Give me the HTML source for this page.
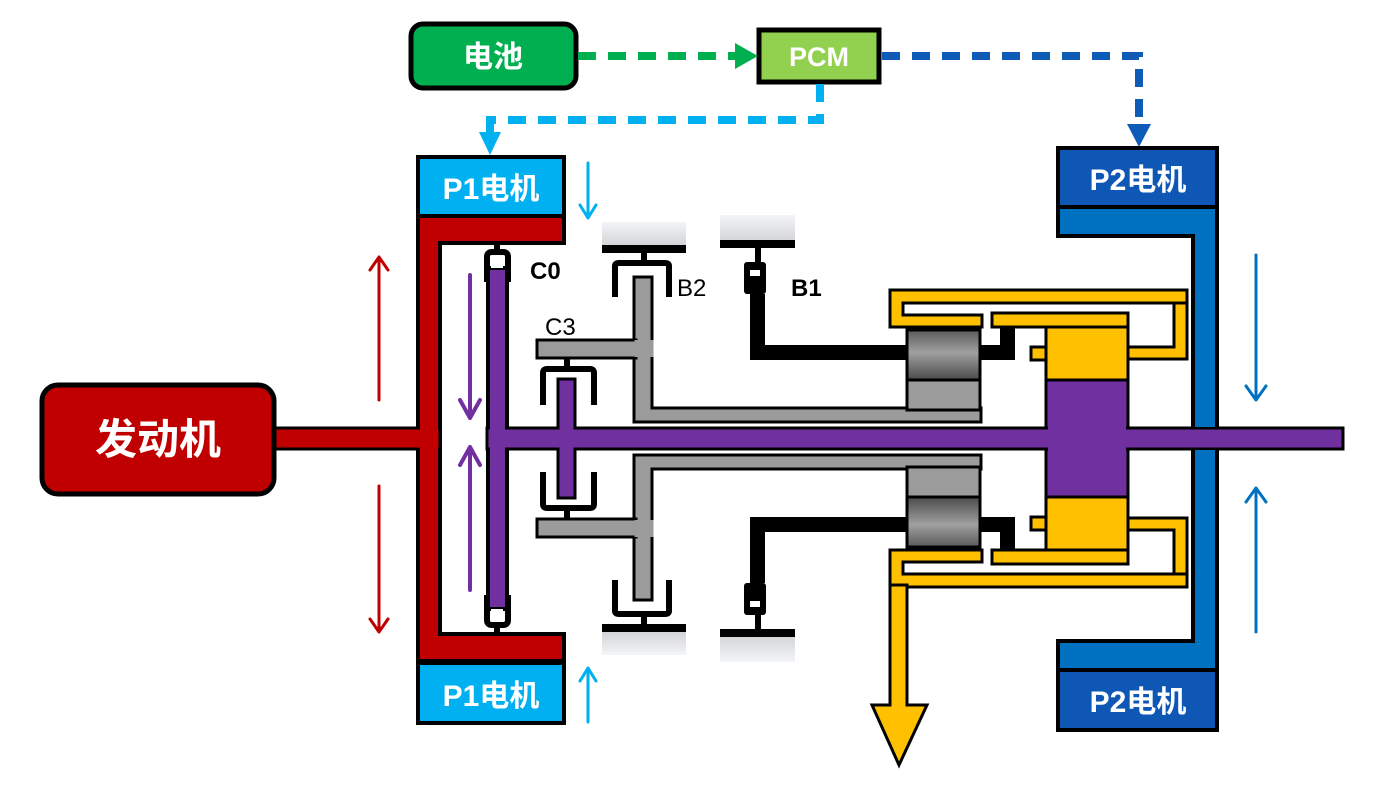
<!DOCTYPE html>
<html><head><meta charset="utf-8"><style>
html,body{margin:0;padding:0;background:#fff;}
svg{display:block;}
text{font-family:"Liberation Sans","Noto Sans CJK SC",sans-serif;}
</style></head><body>
<svg width="1393" height="801" viewBox="0 0 1393 801" xmlns="http://www.w3.org/2000/svg">
<defs>
<linearGradient id="gp" x1="0" y1="0" x2="0" y2="1"><stop offset="0" stop-color="#f4f5f8"/><stop offset="1" stop-color="#d2d3d6"/></linearGradient>
<linearGradient id="gb" x1="0" y1="0" x2="0" y2="1"><stop offset="0" stop-color="#5a5a5a"/><stop offset="0.45" stop-color="#a0a0a0"/><stop offset="1" stop-color="#4a4a4a"/></linearGradient>
<g id="half">
  <path d="M418,216 H564 V243 H440 V438 H418 Z" fill="#c00000" stroke="#000" stroke-width="4"/>
  <rect x="488" y="268" width="19" height="172" fill="#7030a0" stroke="#000" stroke-width="4"/>
  <rect x="494" y="243" width="6" height="10" fill="#000"/>
  <path d="M487,282 V257 Q487,252 492,252 H503 Q508,252 508,257 V282" fill="none" stroke="#000" stroke-width="6"/>
  <rect x="491" y="262" width="12" height="6" fill="#fff"/>
  <rect x="602" y="222" width="84" height="24" fill="url(#gp)"/>
  <rect x="602" y="245" width="84" height="8" fill="#000"/>
  <rect x="641" y="252" width="6" height="12" fill="#000"/>
  <path d="M615,297 V266 Q615,263 619,263 H665 Q669,263 669,266 V297" fill="none" stroke="#000" stroke-width="6"/>
  <rect x="634" y="277" width="18" height="135" fill="#9b9b9b" stroke="#000" stroke-width="3"/>
  <rect x="537" y="340" width="99" height="18" fill="#9b9b9b" stroke="#000" stroke-width="3"/>
  <rect x="634" y="408" width="347" height="14" fill="#9b9b9b" stroke="#000" stroke-width="3"/>
  <rect x="634.5" y="340" width="19" height="17" fill="#9b9b9b"/>
  <rect x="635.5" y="404" width="15" height="8" fill="#9b9b9b"/>
  <rect x="564" y="358" width="6" height="12" fill="#000"/>
  <path d="M543,405 V373 Q543,369 547,369 H590 Q594,369 594,373 V405" fill="none" stroke="#000" stroke-width="6"/>
  <rect x="558" y="379" width="17" height="52" fill="#7030a0" stroke="#000" stroke-width="3"/>
  <rect x="720" y="215" width="75" height="27" fill="url(#gp)"/>
  <rect x="720" y="240" width="75" height="8" fill="#000"/>
  <rect x="755" y="247" width="6" height="16" fill="#000"/>
  <rect x="744" y="262" width="22" height="32" rx="3" fill="#000"/>
  <rect x="750" y="270" width="10" height="6" fill="#fff"/>
  <path d="M750,294 V360 H910 V345 H765 V294 Z" fill="#000"/>
  <rect x="978" y="345" width="37" height="15" fill="#000"/>
  <rect x="1000" y="327" width="15" height="25" fill="#000"/>
  <rect x="907" y="330" width="73" height="50" fill="url(#gb)" stroke="#000" stroke-width="3"/>
  <rect x="907" y="380" width="73" height="30" fill="#9b9b9b" stroke="#000" stroke-width="3"/>
  <path d="M890,290 H1187 V303 H903 V315 H982 V327 H890 Z" fill="#ffc000" stroke="#000" stroke-width="3"/>
  <path d="M1174,303 H1187 V359 H1128 V347 H1174 Z" fill="#ffc000" stroke="#000" stroke-width="3"/>
  <rect x="992" y="313" width="136" height="14" fill="#ffc000" stroke="#000" stroke-width="3"/>
  <rect x="1031" y="347" width="17" height="13" fill="#ffc000" stroke="#000" stroke-width="3"/>
  <rect x="1046" y="327" width="82" height="53" fill="#ffc000" stroke="#000" stroke-width="3"/>
  <rect x="1046" y="380" width="82" height="60" fill="#7030a0" stroke="#000" stroke-width="3"/>
  <path d="M1058,207 H1217 V440 H1193 V236 H1058 Z" fill="#0070c0" stroke="#000" stroke-width="4"/>
</g>
</defs>

<use href="#half"/>
<use href="#half" transform="matrix(1 0 0 -1 0 877)"/>

<rect x="272" y="428" width="168" height="21" fill="#c00000" stroke="#000" stroke-width="3"/>
<rect x="420" y="420" width="18" height="37" fill="#c00000"/>
<rect x="487" y="428" width="856" height="21" fill="#7030a0" stroke="#000" stroke-width="3"/>
<rect x="490" y="420" width="15" height="37" fill="#7030a0"/>
<rect x="559.5" y="420" width="14" height="37" fill="#7030a0"/>
<rect x="1048" y="420" width="78" height="37" fill="#7030a0"/>
<rect x="1195" y="420" width="20" height="7" fill="#0070c0"/>
<rect x="1195" y="450" width="20" height="7" fill="#0070c0"/>

<path d="M890,585 H907 V705 H927 L899,765 L872,705 H890 Z" fill="#ffc000" stroke="#000" stroke-width="3"/>

<rect x="42" y="385" width="232" height="109" rx="16" fill="#c00000" stroke="#000" stroke-width="5"/>
<text x="158" y="454" fill="#fff" font-size="42" font-weight="bold" text-anchor="middle">发动机</text>

<rect x="418" y="157" width="146" height="59" fill="#00b0f0" stroke="#000" stroke-width="4"/>
<text x="491" y="199" fill="#fff" font-size="30" font-weight="bold" text-anchor="middle">P1电机</text>
<rect x="418" y="663" width="146" height="60" fill="#00b0f0" stroke="#000" stroke-width="4"/>
<text x="491" y="706" fill="#fff" font-size="30" font-weight="bold" text-anchor="middle">P1电机</text>
<rect x="1058" y="148" width="159" height="59" fill="#0e57b5" stroke="#000" stroke-width="4"/>
<text x="1138" y="190" fill="#fff" font-size="30" font-weight="bold" text-anchor="middle">P2电机</text>
<rect x="1058" y="670" width="159" height="60" fill="#0e57b5" stroke="#000" stroke-width="4"/>
<text x="1138" y="712" fill="#fff" font-size="30" font-weight="bold" text-anchor="middle">P2电机</text>

<rect x="411" y="24" width="165" height="64" rx="12" fill="#00b050" stroke="#000" stroke-width="5"/>
<text x="493" y="67" fill="#fff" font-size="30" font-weight="bold" text-anchor="middle">电池</text>
<rect x="759" y="30" width="120" height="52" fill="#92d050" stroke="#000" stroke-width="5"/>
<text x="819" y="66" fill="#fff" font-size="27" font-weight="bold" text-anchor="middle">PCM</text>

<g fill="none" stroke-width="8" stroke-dasharray="18,12">
  <path d="M578,56 H738" stroke="#00b050"/>
  <path d="M882,56 H1139 V125" stroke="#0e5cb8"/>
  <path d="M820,84 V120 H490 V135" stroke="#00b0f0"/>
</g>
<path d="M735,43 L758,56 L735,69 Z" fill="#00b050"/>
<path d="M1127,124 L1151,124 L1139,147 Z" fill="#0e5cb8"/>
<path d="M479,132 L501,132 L490,155 Z" fill="#00b0f0"/>

<g fill="none" stroke-width="3" stroke-linecap="round" stroke-linejoin="round">
  <g stroke="#c00000"><path d="M379,400 V257 M370,270 L379,257 L388,270"/><path d="M379,486 V632 M370,619 L379,632 L388,619"/></g>
  <g stroke="#7030a0" stroke-width="4"><path d="M470,275 V418 M460,400 L470,418 L480,400"/><path d="M470,590 V447 M460,465 L470,447 L480,465"/></g>
  <g stroke="#00b0f0"><path d="M588,163 V218 M580,205 L588,218 L596,205"/><path d="M588,722 V668 M580,681 L588,668 L596,681"/></g>
  <g stroke="#0070c0"><path d="M1256,255 V400 M1246,386 L1256,400 L1266,386"/><path d="M1256,632 V488 M1246,502 L1256,488 L1266,502"/></g>
</g>

<text x="530" y="279" font-size="24" font-weight="bold" fill="#000">C0</text>
<text x="677" y="296" font-size="24" fill="#000">B2</text>
<text x="791" y="296" font-size="24" font-weight="bold" fill="#000">B1</text>
<text x="545" y="335" font-size="24" fill="#000">C3</text>
</svg>
</body></html>
